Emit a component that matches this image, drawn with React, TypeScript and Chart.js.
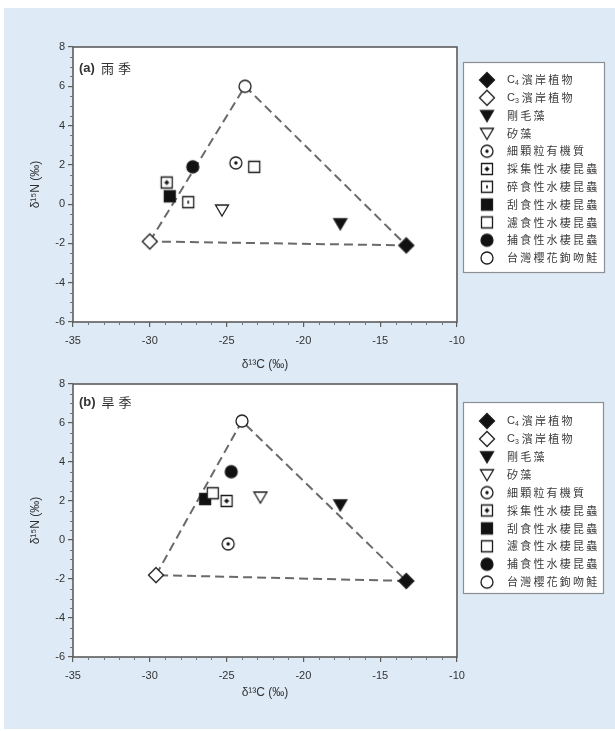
import React, { useEffect, useRef } from 'react';
import { Chart, registerables } from 'chart.js';

Chart.register(...registerables);

// ---------- data ----------
const xTicks = [-35, -30, -25, -20, -15, -10];
const yTicks = [-6, -4, -2, 0, 2, 4, 6, 8];

const wetTitle = '雨季';
const wetGroups = [
  'C₄濱岸植物',
  'C₃濱岸植物',
  '剛毛藻',
  '矽藻',
  '細顆粒有機質',
  '採集性水棲昆蟲',
  '碎食性水棲昆蟲',
  '刮食性水棲昆蟲',
  '濾食性水棲昆蟲',
  '捕食性水棲昆蟲',
  '台灣櫻花鉤吻鮭',
];
const wetX = [-13.3, -30.0, -17.6, -25.3, -24.4, -28.9, -27.5, -28.7, -23.2, -27.2, -23.8];
const wetY = [-2.1, -1.9, -1.0, -0.3, 2.1, 1.1, 0.1, 0.4, 1.9, 1.9, 6.0];

const dryTitle = '旱季';
const dryGroups = [
  'C₄濱岸植物',
  'C₃濱岸植物',
  '剛毛藻',
  '矽藻',
  '細顆粒有機質',
  '採集性水棲昆蟲',
  '刮食性水棲昆蟲',
  '濾食性水棲昆蟲',
  '捕食性水棲昆蟲',
  '台灣櫻花鉤吻鮭',
];
const dryX = [-13.3, -29.6, -17.6, -22.8, -24.9, -25.0, -26.4, -25.9, -24.7, -24.0];
const dryY = [-2.1, -1.8, 1.8, 2.2, -0.2, 2.0, 2.1, 2.4, 3.5, 6.1];

// triangle vertices (mixing polygon): C3 -> fish -> C4 -> C3
const triangleGroups = ['C₃濱岸植物', '台灣櫻花鉤吻鮭', 'C₄濱岸植物', 'C₃濱岸植物'];

const markerKinds: Record<string, string> = {
  'C₄濱岸植物': 'diamondFilled',
  'C₃濱岸植物': 'diamondOpen',
  '剛毛藻': 'triFilled',
  '矽藻': 'triOpen',
  '細顆粒有機質': 'circleDot',
  '採集性水棲昆蟲': 'squarePlus',
  '碎食性水棲昆蟲': 'squareDot',
  '刮食性水棲昆蟲': 'squareFilled',
  '濾食性水棲昆蟲': 'squareOpen',
  '捕食性水棲昆蟲': 'circleFilled',
  '台灣櫻花鉤吻鮭': 'circleOpen',
};

// ---------- styles ----------
const AXIS_FONT = '"Liberation Sans", Arial, sans-serif';
const CJK_FONT = '"Noto Sans CJK TC", "Noto Sans CJK SC", sans-serif';
const TEXT = '#333333';
const FRAME = '#5c5c5c';
const SUBS: Record<string, string> = { '₃': '3', '₄': '4' };

function makeMarker(kind: string): HTMLCanvasElement {
  const S = 20;
  const c = document.createElement('canvas');
  c.width = S;
  c.height = S;
  const g = c.getContext('2d')!;
  g.translate(S / 2, S / 2);
  g.lineWidth = 1.3;
  g.strokeStyle = '#1c1c1c';
  const filled = kind.endsWith('Filled');
  g.beginPath();
  if (kind.startsWith('diamond')) {
    g.moveTo(0, -7.5);
    g.lineTo(7.5, 0);
    g.lineTo(0, 7.5);
    g.lineTo(-7.5, 0);
    g.closePath();
  } else if (kind.startsWith('tri')) {
    g.moveTo(-6.5, -5);
    g.lineTo(6.5, -5);
    g.lineTo(0, 6);
    g.closePath();
  } else if (kind.startsWith('circle')) {
    g.arc(0, 0, 6, 0, Math.PI * 2);
  } else {
    g.rect(-5.5, -5.5, 11, 11);
  }
  g.fillStyle = filled ? '#111111' : '#ffffff';
  g.fill();
  g.stroke();
  g.fillStyle = '#111111';
  if (kind === 'circleDot') {
    g.beginPath();
    g.arc(0, 0, 1.7, 0, Math.PI * 2);
    g.fill();
  } else if (kind === 'squarePlus') {
    g.fillRect(-1.5, -1.5, 3, 3);
    g.fillRect(-0.5, -2.5, 1, 5);
    g.fillRect(-2.5, -0.5, 5, 1);
  } else if (kind === 'squareDot') {
    g.fillRect(-0.8, -1.5, 1.6, 3);
  }
  return c;
}

interface PanelCfg {
  tag: string;
  season: string;
  groups: string[];
  xs: number[];
  ys: number[];
  top: number;
  height: number;
  padTop: number;
  xAxisHeight: number;
  xTitlePad: number;
  labelY: number;
  legendBox: { x: number; y: number; w: number; h: number };
  legendFirst: number;
  legendStep: number;
}

const WIDTH = 611;

function drawLegendLabel(ctx: CanvasRenderingContext2D, text: string, x: number, y: number) {
  let cx = x;
  let rest = text;
  if (text[0] === 'C' && SUBS[text[1]]) {
    (ctx as any).letterSpacing = '0px';
    ctx.font = `11px ${AXIS_FONT}`;
    ctx.fillText('C', cx, y);
    cx += ctx.measureText('C').width;
    ctx.font = `7px ${AXIS_FONT}`;
    ctx.fillText(SUBS[text[1]], cx, y + 3);
    cx += ctx.measureText(SUBS[text[1]]).width + 3;
    rest = text.slice(2);
  }
  ctx.font = `11px ${CJK_FONT}`;
  (ctx as any).letterSpacing = '2.2px';
  ctx.fillText(rest, cx, y);
  (ctx as any).letterSpacing = '0px';
}

function Panel(cfg: PanelCfg) {
  const ref = useRef<HTMLCanvasElement>(null);
  useEffect(() => {
    const canvas = ref.current!;
    const markers: Record<string, HTMLCanvasElement> = {};
    Object.keys(markerKinds).forEach((k) => (markers[k] = makeMarker(markerKinds[k])));

    const pointDatasets: any[] = cfg.groups.map((g, i) => ({
      label: g,
      data: [{ x: cfg.xs[i], y: cfg.ys[i] }],
      pointStyle: markers[g],
      pointRadius: 7,
      pointHoverRadius: 7,
      order: -i,
    }));
    const triData = triangleGroups.map((g) => {
      const i = cfg.groups.indexOf(g);
      return { x: cfg.xs[i], y: cfg.ys[i] };
    });
    const datasets = [
      ...pointDatasets,
      {
        label: 'mixing',
        data: triData,
        showLine: true,
        borderColor: '#6a6a6a',
        borderWidth: 2,
        borderDash: [9, 5],
        pointRadius: 0,
        fill: false,
        tension: 0,
        order: 1,
      },
    ];

    const decor = {
      id: 'decor',
      beforeDraw(chart: any) {
        const { ctx, chartArea: a } = chart;
        ctx.save();
        ctx.fillStyle = '#ffffff';
        ctx.fillRect(a.left, a.top, a.right - a.left, a.bottom - a.top);
        ctx.restore();
      },
      afterDraw(chart: any) {
        const { ctx, chartArea: a, scales } = chart;
        ctx.save();
        // frame
        ctx.strokeStyle = FRAME;
        ctx.lineWidth = 1.6;
        ctx.strokeRect(a.left, a.top, a.right - a.left, a.bottom - a.top);
        // minor ticks
        ctx.lineWidth = 1;
        ctx.strokeStyle = '#777777';
        ctx.beginPath();
        for (let v = -35; v <= -10; v += 1) {
          if (v % 5 === 0) continue;
          const px = Math.round(scales.x.getPixelForValue(v)) + 0.5;
          ctx.moveTo(px, a.bottom);
          ctx.lineTo(px, a.bottom + 3);
        }
        for (let k = -12; k <= 16; k += 1) {
          if (k % 4 === 0) continue;
          const py = Math.round(scales.y.getPixelForValue(k / 2)) + 0.5;
          ctx.moveTo(a.left, py);
          ctx.lineTo(a.left - 3, py);
        }
        ctx.stroke();
        // panel label
        ctx.fillStyle = TEXT;
        ctx.textBaseline = 'middle';
        ctx.textAlign = 'left';
        ctx.font = `bold 13px ${AXIS_FONT}`;
        ctx.fillText(cfg.tag, a.left + 6, cfg.labelY);
        const tw = ctx.measureText(cfg.tag).width;
        ctx.font = `13px ${CJK_FONT}`;
        (ctx as any).letterSpacing = '4px';
        ctx.fillText(cfg.season, a.left + 6 + tw + 6, cfg.labelY);
        (ctx as any).letterSpacing = '0px';
        // legend
        const b = cfg.legendBox;
        ctx.fillStyle = '#ffffff';
        ctx.fillRect(b.x, b.y, b.w, b.h);
        ctx.strokeStyle = '#8a8f96';
        ctx.lineWidth = 1.2;
        ctx.strokeRect(b.x + 0.5, b.y + 0.5, b.w, b.h);
        ctx.fillStyle = '#3a3a3a';
        cfg.groups.forEach((g, i) => {
          const y = cfg.legendFirst + i * cfg.legendStep;
          const m = markers[g];
          ctx.drawImage(m, b.x + 24 - m.width / 2, y - m.height / 2);
          drawLegendLabel(ctx, g, b.x + 44, y);
        });
        ctx.restore();
      },
    };

    const tickFont = { family: AXIS_FONT, size: 11 };
    const chart = new Chart(canvas, {
      type: 'scatter',
      data: { datasets },
      options: {
        responsive: false,
        animation: false,
        devicePixelRatio: 1,
        events: [],
        layout: { padding: { top: cfg.padTop, right: WIDTH - 453, bottom: 0, left: 0 } },
        plugins: { legend: { display: false }, tooltip: { enabled: false } },
        scales: {
          x: {
            type: 'linear',
            min: -35,
            max: -10,
            afterBuildTicks: (s: any) => {
              s.ticks = xTicks.map((v) => ({ value: v }));
            },
            afterFit: (s: any) => {
              s.height = cfg.xAxisHeight;
            },
            ticks: {
              font: tickFont,
              color: TEXT,
              padding: 7,
              autoSkip: false,
              maxRotation: 0,
              callback: (v: any) => String(v),
            },
            grid: { drawOnChartArea: false, drawTicks: true, tickLength: 5, color: FRAME, lineWidth: 1.2 },
            border: { display: false },
            title: {
              display: true,
              text: 'δ¹³C (‰)',
              font: { family: AXIS_FONT, size: 12 },
              color: TEXT,
              padding: { top: 0, bottom: cfg.xTitlePad },
            },
          },
          y: {
            type: 'linear',
            min: -6,
            max: 8,
            afterBuildTicks: (s: any) => {
              s.ticks = yTicks.map((v) => ({ value: v }));
            },
            afterFit: (s: any) => {
              s.width = 69;
            },
            ticks: {
              font: tickFont,
              color: TEXT,
              padding: 3,
              autoSkip: false,
              callback: (v: any) => String(v),
            },
            grid: { drawOnChartArea: false, drawTicks: true, tickLength: 5, color: FRAME, lineWidth: 1.2 },
            border: { display: false },
            title: {
              display: true,
              text: 'δ¹⁵N (‰)',
              font: { family: AXIS_FONT, size: 12 },
              color: TEXT,
              padding: { top: 24, bottom: 0 },
            },
          },
        },
      },
      plugins: [decor],
    } as any);
    return () => chart.destroy();
  }, []);
  return (
    <canvas
      ref={ref}
      width={WIDTH}
      height={cfg.height}
      style={{ position: 'absolute', left: 0, top: cfg.top - 8, width: WIDTH, height: cfg.height }}
    />
  );
}

export default function App() {
  return (
    <div
      style={{
        position: 'absolute',
        left: 4,
        top: 8,
        width: WIDTH,
        height: 721,
        background: '#deeaf6',
      }}
    >
      <Panel
        tag="(a)"
        season={wetTitle}
        groups={wetGroups}
        xs={wetX}
        ys={wetY}
        top={8}
        height={370}
        padTop={39}
        xAxisHeight={56}
        xTitlePad={6}
        labelY={60}
        legendBox={{ x: 459, y: 54, w: 141, h: 210 }}
        legendFirst={72}
        legendStep={17.8}
      />
      <Panel
        tag="(b)"
        season={dryTitle}
        groups={dryGroups}
        xs={dryX}
        ys={dryY}
        top={374}
        height={355}
        padTop={10}
        xAxisHeight={72}
        xTitlePad={29}
        labelY={28}
        legendBox={{ x: 459, y: 28, w: 140, h: 191 }}
        legendFirst={47}
        legendStep={17.9}
      />
    </div>
  );
}
